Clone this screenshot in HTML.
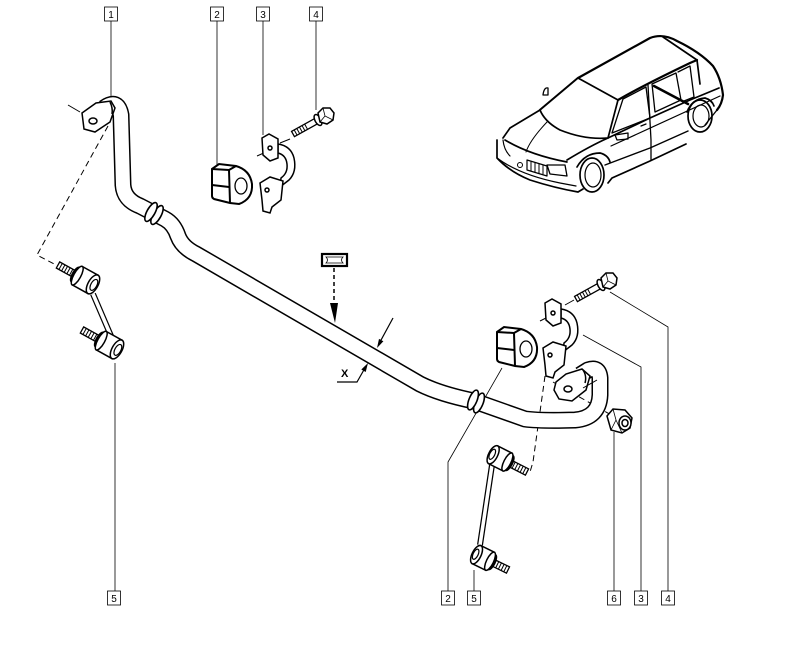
<!DOCTYPE html>
<html><head><meta charset="utf-8"><style>
html,body{margin:0;padding:0;background:#fff;}
svg{display:block}
</style></head><body>
<svg width="805" height="649" viewBox="0 0 805 649" xmlns="http://www.w3.org/2000/svg" font-family="Liberation Sans, sans-serif">
<rect width="805" height="649" fill="#fff"/>

<!-- leader lines -->
<g stroke="#000" stroke-width="0.8" fill="none">
  <path d="M111,20 L111,97"/>
  <path d="M217,20 L217,165"/>
  <path d="M263,20 L263,135"/>
  <path d="M316,20 L316,110"/>
  <path d="M115,363 L115,591"/>
  <path d="M448,591 L448,462 L502,368"/>
  <path d="M474,591 L474,570"/>
  <path d="M614,591 L614,432"/>
  <path d="M641,591 L641,367 L583,335"/>
  <path d="M668,591 L668,327 L610,292"/>
</g>

<!-- dashed lines -->
<g stroke="#000" stroke-width="1" fill="none" stroke-dasharray="6 4">
  <path d="M108,126 L37,255 L58,266"/>
  <path d="M545,376 L533,462 L530,472"/>
  <path d="M553,382 L613,416"/>
</g>
<g stroke="#000" stroke-width="1" fill="none">
  <path d="M68,105 L80,112"/>
  <path d="M257,156 L266,152"/>
  <path d="M280,143 L290,139"/>
  <path d="M540,321 L550,316"/>
  <path d="M565,305 L574,300"/>
</g>

<!-- stabilizer bar -->
<path d="M104,108 Q118,98 121,115 L122,150 L123,185 Q124,200 140,206 L165,219 Q174,224 178,236 Q182,247 196,254 L420,384 Q440,394 474,401 L525,419 Q540,421 575,420 Q599,418 600,395 L600,378 Q599,366 588,370 L580,375" fill="none" stroke="#000" stroke-width="17" stroke-linejoin="round"/>
<path d="M104,108 Q118,98 121,115 L122,150 L123,185 Q124,200 140,206 L165,219 Q174,224 178,236 Q182,247 196,254 L420,384 Q440,394 474,401 L525,419 Q540,421 575,420 Q599,418 600,395 L600,378 Q599,366 588,370 L580,375" fill="none" stroke="#fff" stroke-width="14" stroke-linejoin="round"/>

<!-- bar rings -->
<g fill="#fff" stroke="#000" stroke-width="1.6">
  <ellipse cx="157" cy="215" rx="4" ry="10.5" transform="rotate(29 157 215)"/>
  <ellipse cx="151" cy="212" rx="4" ry="10.5" transform="rotate(29 151 212)"/>
  <ellipse cx="479" cy="403" rx="4" ry="10.5" transform="rotate(22 479 403)"/>
  <ellipse cx="473" cy="400" rx="4" ry="10.5" transform="rotate(22 473 400)"/>
</g>

<!-- bar end tabs -->
<g fill="#fff" stroke="#000" stroke-width="1.5">
  <path d="M82,113 L96,103 L111,101 L115,108 L110,122 L95,132 L84,129 Z"/>
  <ellipse cx="93" cy="121" rx="4" ry="3"/>
  <path d="M110,102 Q113,108 112,114" fill="none"/>
  <path d="M556,382 L566,374 L582,369 L590,376 L586,390 L572,401 L559,399 L554,390 Z"/>
  <ellipse cx="568" cy="389" rx="4" ry="3"/>
  <path d="M583,370 Q587,376 585,383" fill="none"/>
</g>
<path d="M583,388 L597,380" stroke="#000" stroke-width="1" fill="none"/>

<!-- bushings (2) -->
<g fill="#fff" stroke="#000" stroke-width="2">
  <path d="M212,169 L219,164 L236,166 Q250,170 252,184 Q253,199 239,204 L230,203 L214,199 Q212,198 212,196 Z"/>
  <path d="M229,170 L230,203" fill="none"/>
  <path d="M212,169 L229,170 L236,166" fill="none"/>
  <path d="M212,185 L229,187" fill="none"/>
  <ellipse cx="241" cy="186" rx="6" ry="8" stroke-width="1.3"/>
</g>
<g transform="translate(285,163)" fill="#fff" stroke="#000" stroke-width="2">
  <path d="M212,169 L219,164 L236,166 Q250,170 252,184 Q253,199 239,204 L230,203 L214,199 Q212,198 212,196 Z"/>
  <path d="M229,170 L230,203" fill="none"/>
  <path d="M212,169 L229,170 L236,166" fill="none"/>
  <path d="M212,185 L229,187" fill="none"/>
  <ellipse cx="241" cy="186" rx="6" ry="8" stroke-width="1.3"/>
</g>

<!-- brackets (3) -->
<g fill="#fff" stroke="#000" stroke-width="1.5">
  <path d="M278,144 Q291,146 294,158 Q297,172 289,180 L280,187 L281,178 Q288,173 287,164 Q286,155 278,153 Z"/>
  <path d="M262,138 L269,134 L278,139 L278,158 L270,161 L263,155 Z"/>
  <circle cx="270" cy="148" r="2"/>
  <path d="M260,183 L270,177 L283,181 L281,200 L272,207 L270,213 L263,211 L262,200 Z"/>
  <circle cx="267" cy="190" r="2"/>
</g>
<g transform="translate(283,165)" fill="#fff" stroke="#000" stroke-width="1.5">
  <path d="M278,144 Q291,146 294,158 Q297,172 289,180 L280,187 L281,178 Q288,173 287,164 Q286,155 278,153 Z"/>
  <path d="M262,138 L269,134 L278,139 L278,158 L270,161 L263,155 Z"/>
  <circle cx="270" cy="148" r="2"/>
  <path d="M260,183 L270,177 L283,181 L281,200 L272,207 L270,213 L263,211 L262,200 Z"/>
  <circle cx="267" cy="190" r="2"/>
</g>

<!-- bolts (4) -->
<g>
  <g transform="translate(293,134) rotate(-29)" fill="#fff" stroke="#000" stroke-width="1.3">
    <rect x="0" y="-3" width="26" height="6"/>
    <path d="M3,-3 L3,3 M6,-3 L6,3 M9,-3 L9,3 M12,-3 L12,3 M15,-3 L15,3" stroke-width="1"/>
  </g>
  <ellipse cx="318" cy="120" rx="3" ry="6" transform="rotate(-29 318 120)" fill="#fff" stroke="#000" stroke-width="1.5"/>
  <path d="M318,113 L323,108 L330,108 L334,113 L333,120 L327,124 L320,122 Z" fill="#fff" stroke="#000" stroke-width="1.5"/>
  <path d="M323,108 L325,116 L333,120 M325,116 L320,122" fill="none" stroke="#000" stroke-width="0.8"/>
</g>
<g transform="translate(283,165)">
  <g transform="translate(293,134) rotate(-29)" fill="#fff" stroke="#000" stroke-width="1.3">
    <rect x="0" y="-3" width="26" height="6"/>
    <path d="M3,-3 L3,3 M6,-3 L6,3 M9,-3 L9,3 M12,-3 L12,3 M15,-3 L15,3" stroke-width="1"/>
  </g>
  <ellipse cx="318" cy="120" rx="3" ry="6" transform="rotate(-29 318 120)" fill="#fff" stroke="#000" stroke-width="1.5"/>
  <path d="M318,113 L323,108 L330,108 L334,113 L333,120 L327,124 L320,122 Z" fill="#fff" stroke="#000" stroke-width="1.5"/>
  <path d="M323,108 L325,116 L333,120 M325,116 L320,122" fill="none" stroke="#000" stroke-width="0.8"/>
</g>

<!-- nut (6) -->
<g fill="#fff" stroke="#000" stroke-width="1.5">
  <path d="M607,416 L613,409 L625,410 L632,418 L630,428 L622,433 L611,430 Z"/>
  <ellipse cx="625" cy="423" rx="6" ry="7"/>
  <ellipse cx="625" cy="423" rx="3" ry="3.5"/>
  <path d="M613,409 L616,420 L611,430 M616,420 L622,433" fill="none" stroke-width="0.8"/>
</g>

<!-- links (5) -->
<path d="M93,294 L114,343" stroke="#000" stroke-width="6" fill="none"/>
<path d="M93,294 L114,343" stroke="#fff" stroke-width="3.5" fill="none"/>
<path d="M492,465 L480,545" stroke="#000" stroke-width="6" fill="none"/>
<path d="M492,465 L480,545" stroke="#fff" stroke-width="3.5" fill="none"/>

<g transform="translate(58,265) rotate(29)" stroke="#000" fill="#fff">
  <rect x="0" y="-3.5" width="18" height="7" stroke-width="1.3"/>
  <path d="M3,-3.5 L3,3.5 M6,-3.5 L6,3.5 M9,-3.5 L9,3.5 M12,-3.5 L12,3.5 M15,-3.5 L15,3.5" stroke-width="1"/>
  <ellipse cx="20" cy="0" rx="3" ry="8" stroke-width="2"/>
  <path d="M22,-10.5 L40,-10.5 L40,10.5 L22,10.5 Z" stroke-width="1.5"/>
  <ellipse cx="22" cy="0" rx="3.5" ry="10.5" stroke-width="1.5"/>
  <ellipse cx="40" cy="0" rx="5" ry="10.5" stroke-width="1.5"/>
  <ellipse cx="41" cy="0" rx="3" ry="6" stroke-width="1.2"/>
</g>
<g transform="translate(82,330) rotate(29)" stroke="#000" fill="#fff">
  <rect x="0" y="-3.5" width="18" height="7" stroke-width="1.3"/>
  <path d="M3,-3.5 L3,3.5 M6,-3.5 L6,3.5 M9,-3.5 L9,3.5 M12,-3.5 L12,3.5 M15,-3.5 L15,3.5" stroke-width="1"/>
  <ellipse cx="20" cy="0" rx="3" ry="8" stroke-width="2"/>
  <path d="M22,-10.5 L40,-10.5 L40,10.5 L22,10.5 Z" stroke-width="1.5"/>
  <ellipse cx="22" cy="0" rx="3.5" ry="10.5" stroke-width="1.5"/>
  <ellipse cx="40" cy="0" rx="5" ry="10.5" stroke-width="1.5"/>
  <ellipse cx="41" cy="0" rx="3" ry="6" stroke-width="1.2"/>
</g>
<g transform="translate(527,472) rotate(207)" stroke="#000" fill="#fff">
  <rect x="0" y="-3.5" width="18" height="7" stroke-width="1.3"/>
  <path d="M3,-3.5 L3,3.5 M6,-3.5 L6,3.5 M9,-3.5 L9,3.5 M12,-3.5 L12,3.5 M15,-3.5 L15,3.5" stroke-width="1"/>
  <ellipse cx="20" cy="0" rx="3" ry="8" stroke-width="2"/>
  <path d="M22,-10 L38,-10 L38,10 L22,10 Z" stroke-width="1.5"/>
  <ellipse cx="22" cy="0" rx="3.5" ry="10" stroke-width="1.5"/>
  <ellipse cx="38" cy="0" rx="4.5" ry="10" stroke-width="1.5"/>
  <ellipse cx="39" cy="0" rx="2.5" ry="5.5" stroke-width="1.2"/>
</g>
<g transform="translate(508,570) rotate(206)" stroke="#000" fill="#fff">
  <rect x="0" y="-3.5" width="16" height="7" stroke-width="1.3"/>
  <path d="M3,-3.5 L3,3.5 M6,-3.5 L6,3.5 M9,-3.5 L9,3.5 M12,-3.5 L12,3.5" stroke-width="1"/>
  <ellipse cx="18" cy="0" rx="3" ry="8" stroke-width="2"/>
  <path d="M20,-10 L35,-10 L35,10 L20,10 Z" stroke-width="1.5"/>
  <ellipse cx="20" cy="0" rx="3.5" ry="10" stroke-width="1.5"/>
  <ellipse cx="35" cy="0" rx="4.5" ry="10" stroke-width="1.5"/>
  <ellipse cx="36" cy="0" rx="2.5" ry="5.5" stroke-width="1.2"/>
</g>

<!-- section marker & dimension -->
<rect x="322" y="254" width="25" height="12" fill="#fff" stroke="#000" stroke-width="2.2"/>
<path d="M326,257 Q329,260 326,263 L343,263 Q340,260 343,257 Z" fill="none" stroke="#000" stroke-width="0.8"/>
<path d="M334,268 L334,304" stroke="#000" stroke-width="1.5" stroke-dasharray="4 3" fill="none"/>
<polygon points="330,303 338,303 335,323" fill="#000"/>
<path d="M393,318 L380,342" stroke="#000" stroke-width="1.2" fill="none"/>
<polygon points="377,348 383.4,341.3 379,338.9" fill="#000"/>
<path d="M337,382 L357,382 L365,368" stroke="#000" stroke-width="1.2" fill="none"/>
<polygon points="368,363 365.7,372 361.3,369.5" fill="#000"/>
<text x="341" y="377" font-size="11" font-weight="bold">X</text>

<!-- car -->
<g fill="none" stroke="#000" stroke-width="1.7" stroke-linejoin="round" stroke-linecap="round">
  <path d="M540,110 L578,78 L650,38 Q663,33 677,41 Q700,52 713,66 Q721,78 723,95 Q722,104 717,110" stroke-width="2.2"/>
  <path d="M663,37 L697,60 L700,84"/>
  <path d="M540,110 L578,78 L618,100 L608,138 Q585,140 560,130 Q545,122 540,110 Z" fill="#fff"/>
  <path d="M618,100 Q640,87 690,63 L697,60" stroke-width="2.2"/>
  <path d="M623,99 L646,87 L650,118 L612,133 Z" stroke-width="1.3"/>
  <path d="M652,84 L676,73 L681,100 L655,112 Z" stroke-width="1.3"/>
  <path d="M654,86 L688,104" stroke-width="2.6"/>
  <path d="M678,72 L690,66 L694,97 L684,101" stroke-width="1.3"/>
  <path d="M608,138 L650,118 L690,100 L719,88"/>
  <path d="M611,146 L720,96" stroke-width="1.2"/>
  <path d="M605,165 L650,148 L688,131" stroke-width="1.4"/>
  <path d="M608,183 L612,178 L650,161 L686,144"/>
  <path d="M648,85 L651,140 L651,160" stroke-width="1.3"/>
  <path d="M540,110 L510,128 L503,138"/>
  <path d="M505,140 Q530,155 567,162"/>
  <path d="M608,138 Q590,146 567,160"/>
  <path d="M547,122 Q530,140 526,152" stroke-width="1"/>
  <path d="M497,140 L497,158 Q510,172 530,180 Q555,188 578,192 L583,189"/>
  <path d="M497,158 Q520,175 560,183 L576,186" stroke-width="1.2"/>
  <path d="M503,140 Q504,150 510,156" stroke-width="1.2"/>
  <path d="M547,165 L565,165 L567,176 L550,174 Z" stroke-width="1.3"/>
  <path d="M527,160 L547,166 L547,176 L527,170 Z" stroke-width="1.2"/>
  <path d="M531,162 L531,171 M535,163 L535,172 M539,164 L539,173 M543,165 L543,174" stroke-width="1"/>
  <circle cx="520" cy="165" r="2.5" stroke-width="1"/>
  <ellipse cx="592" cy="175" rx="12" ry="17"/>
  <ellipse cx="593" cy="175" rx="8" ry="12" stroke-width="1.2"/>
  <path d="M577,167 Q585,153 600,153 Q608,155 610,162"/>
  <ellipse cx="700" cy="116" rx="12" ry="16"/>
  <ellipse cx="701" cy="116" rx="8" ry="11" stroke-width="1.2"/>
  <path d="M687,112 Q692,99 705,98 Q712,100 714,106"/>
  <path d="M615,135 L628,133 L628,139 L617,140 Z" stroke-width="1.3"/>
  <path d="M641,126 L646,124" stroke-width="1.3"/>
  <path d="M543,95 Q544,87 548,88 L548,95 Z" stroke-width="1.3"/>
  <path d="M717,110 L705,125" stroke-width="1.3"/>
</g>

<!-- label boxes -->
<g font-size="10" text-anchor="middle" fill="#000">
  <g stroke="#000" stroke-width="0.8" fill="#fff">
    <rect x="104.5" y="7" width="13" height="14"/>
    <rect x="210.5" y="7" width="13" height="14"/>
    <rect x="256.5" y="7" width="13" height="14"/>
    <rect x="309.5" y="7" width="13" height="14"/>
    <rect x="107.5" y="591" width="13" height="14"/>
    <rect x="441.5" y="591" width="13" height="14"/>
    <rect x="467.5" y="591" width="13" height="14"/>
    <rect x="607.5" y="591" width="13" height="14"/>
    <rect x="634.5" y="591" width="13" height="14"/>
    <rect x="661.5" y="591" width="13" height="14"/>
  </g>
  <text x="111" y="18">1</text>
  <text x="217" y="18">2</text>
  <text x="263" y="18">3</text>
  <text x="316" y="18">4</text>
  <text x="114" y="602">5</text>
  <text x="448" y="602">2</text>
  <text x="474" y="602">5</text>
  <text x="614" y="602">6</text>
  <text x="641" y="602">3</text>
  <text x="668" y="602">4</text>
</g>
</svg>
</body></html>
